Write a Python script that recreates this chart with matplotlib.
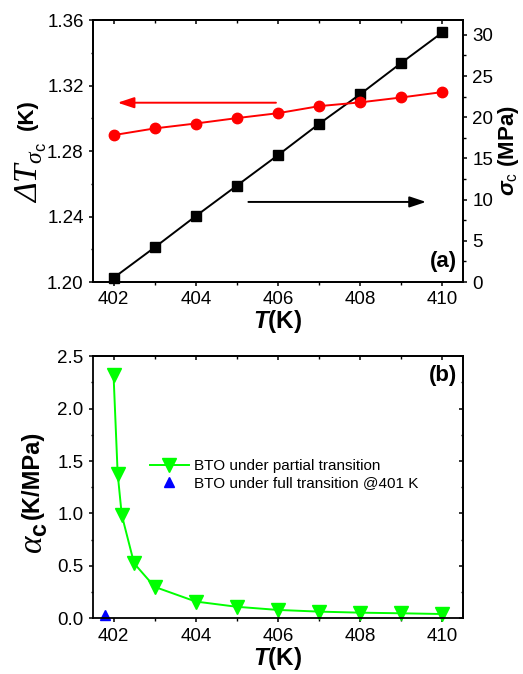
import matplotlib
matplotlib.use("Agg")
import matplotlib.pyplot as plt
from matplotlib.ticker import MultipleLocator, FormatStrFormatter

plt.rcParams['font.family'] = ['Liberation Sans', 'DejaVu Sans']
plt.rcParams['mathtext.fontset'] = 'custom'
plt.rcParams['mathtext.rm'] = 'Liberation Sans'
plt.rcParams['mathtext.it'] = 'Liberation Sans:bold:italic'
plt.rcParams['mathtext.bf'] = 'Liberation Sans:bold'
plt.rcParams['mathtext.cal'] = 'Liberation Serif:italic'

# ---- data ----
T_a = [402, 403, 404, 405, 406, 407, 408, 409, 410]
dT_sigma = [1.2897, 1.2938, 1.2968, 1.3001, 1.3031, 1.3074, 1.3097, 1.3127, 1.3160]
sigma_c = [0.5, 4.2, 8.0, 11.7, 15.4, 19.2, 22.8, 26.6, 30.3]

T_b = [402, 402.1, 402.2, 402.5, 403, 404, 405, 406, 407, 408, 409, 410]
alpha_partial = [2.32, 1.38, 0.985, 0.524, 0.30, 0.16, 0.11, 0.08, 0.064, 0.054, 0.048, 0.041]
T_full = [401.8]
alpha_full = [0.03]

legend_labels = ["BTO under partial transition", "BTO under full transition @401 K"]
xticks = [402, 404, 406, 408, 410]

# annotation arrows (tail x, head x, y on left axis)
red_arrow = (405.95, 402.1, 1.3095)
black_arrow = (405.28, 409.6, 1.2489)

fig = plt.figure(figsize=(5.23, 6.74), dpi=100)

TICK_FS = 13.5
LABEL_FS = 16
XLABEL_FS = 17.5
SYM_FS = 24


def style_axis(ax):
    for s in ax.spines.values():
        s.set_linewidth(1.3)
    ax.tick_params(which='major', length=3.2, width=1.1, labelsize=TICK_FS)
    ax.tick_params(which='minor', length=1.8, width=1.0)


def add_top_ticks(ax):
    sec = ax.secondary_xaxis('top')
    sec.set_xticks(xticks)
    sec.xaxis.set_minor_locator(MultipleLocator(1))
    sec.tick_params(which='major', direction='in', length=3.2, width=1.1, labeltop=False)
    sec.tick_params(which='minor', direction='in', length=1.8, width=1.0)
    sec.spines['top'].set_linewidth(1.3)


# ---------- panel (a) ----------
ax1 = fig.add_axes([0.1778, 0.5816, 0.7075, 0.3887])
ax2 = ax1.twinx()
ax1.set_zorder(ax2.get_zorder() + 1)
ax1.patch.set_visible(False)

ax2.plot(T_a, sigma_c, color='black', marker='s', markersize=7, lw=1.4, clip_on=False)
ax1.plot(T_a, dT_sigma, color='red', marker='o', markersize=7.5, lw=1.4, clip_on=False)

ax1.set_xlim(401.5, 410.5)
ax1.set_ylim(1.20, 1.36)
ax2.set_ylim(0, 31.8)
ax1.set_xticks(xticks)
ax1.xaxis.set_minor_locator(MultipleLocator(1))
ax1.yaxis.set_major_locator(MultipleLocator(0.04))
ax1.yaxis.set_minor_locator(MultipleLocator(0.02))
ax1.yaxis.set_major_formatter(FormatStrFormatter('%.2f'))
ax2.yaxis.set_major_locator(MultipleLocator(5))
ax2.yaxis.set_minor_locator(MultipleLocator(2.5))
style_axis(ax1)
style_axis(ax2)
ax1.tick_params(which='both', direction='out')
ax2.tick_params(which='both', direction='out')
add_top_ticks(ax1)

ax1.set_xlabel(r'$\mathit{T}$(K)', fontsize=XLABEL_FS, fontweight='bold', labelpad=0)
ax1.text(-0.166, 0.300, r'$\mathcal{\Delta T}_{\mathcal{\sigma}_{\mathrm{c}}}$', transform=ax1.transAxes,
         rotation=90, ha='center', va='bottom', fontsize=SYM_FS)
ax1.text(-0.177, 0.580, '(K)', transform=ax1.transAxes, rotation=90, ha='center',
         va='bottom', fontsize=LABEL_FS, fontweight='bold')
ax2.set_ylabel(r'$\mathit{\sigma}_{\mathrm{c}}$ (MPa)', fontsize=LABEL_FS, fontweight='bold',
               labelpad=2)

ax1.annotate('', xy=(red_arrow[1], red_arrow[2]), xytext=(red_arrow[0], red_arrow[2]),
             arrowprops=dict(arrowstyle='-|>,head_length=0.9,head_width=0.3', color='red',
                             lw=1.4, shrinkA=0, shrinkB=0, mutation_scale=11))
ax1.annotate('', xy=(black_arrow[1], black_arrow[2]), xytext=(black_arrow[0], black_arrow[2]),
             arrowprops=dict(arrowstyle='-|>,head_length=0.9,head_width=0.3', color='black',
                             lw=1.4, shrinkA=0, shrinkB=0, mutation_scale=11))
ax1.text(0.985, 0.04, '(a)', transform=ax1.transAxes, ha='right', va='bottom',
         fontsize=LABEL_FS, fontweight='bold')

# ---------- panel (b) ----------
ax3 = fig.add_axes([0.1778, 0.0826, 0.7075, 0.389])
ax3.plot(T_b, alpha_partial, color='#00FF00', marker='v', markersize=9.5, lw=1.4,
         label=legend_labels[0], clip_on=False)
ax3.plot(T_full, alpha_full, color='#0000FF', marker='^', markersize=6.5, lw=0,
         label=legend_labels[1], clip_on=False)
ax3.set_xlim(401.5, 410.5)
ax3.set_ylim(0, 2.5)
ax3.set_xticks(xticks)
ax3.xaxis.set_minor_locator(MultipleLocator(1))
ax3.yaxis.set_major_locator(MultipleLocator(0.5))
ax3.yaxis.set_minor_locator(MultipleLocator(0.25))
ax3.yaxis.set_major_formatter(FormatStrFormatter('%.1f'))
style_axis(ax3)
ax3.tick_params(which='both', direction='out')
add_top_ticks(ax3)
sec3r = ax3.secondary_yaxis('right')
sec3r.yaxis.set_major_locator(MultipleLocator(0.5))
sec3r.yaxis.set_minor_locator(MultipleLocator(0.25))
sec3r.tick_params(which='major', direction='in', length=3.2, width=1.1, labelright=False)
sec3r.tick_params(which='minor', direction='in', length=1.8, width=1.0)
sec3r.spines['right'].set_linewidth(1.3)

ax3.set_xlabel(r'$\mathit{T}$(K)', fontsize=XLABEL_FS, fontweight='bold', labelpad=0)
ax3.text(-0.158, 0.245, r'$\mathcal{\alpha}_{\mathbf{c}}$', transform=ax3.transAxes,
         rotation=90, ha='center', va='bottom', fontsize=SYM_FS)
ax3.text(-0.164, 0.378, '(K/MPa)', transform=ax3.transAxes, rotation=90, ha='center',
         va='bottom', fontsize=17, fontweight='bold')
ax3.text(0.984, 0.966, '(b)', transform=ax3.transAxes, ha='right', va='top',
         fontsize=LABEL_FS, fontweight='bold')
ax3.legend(loc='center left', bbox_to_anchor=(0.155, 0.548), frameon=False, fontsize=11,
           handlelength=2.5, handletextpad=0.35, borderpad=0, borderaxespad=0,
           labelspacing=0.2)

fig.savefig('out.png', dpi=100)
